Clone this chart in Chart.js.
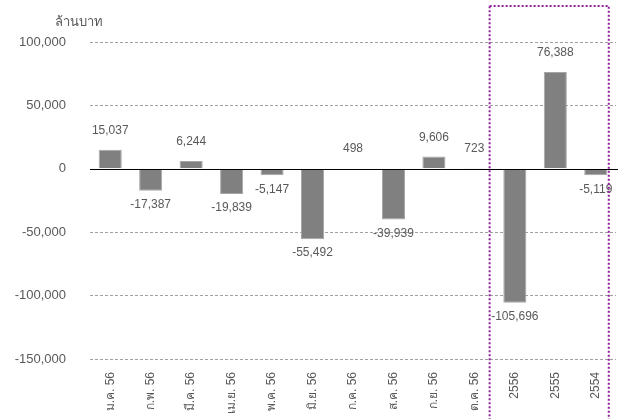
<!DOCTYPE html>
<html>
<head>
<meta charset="utf-8">
<script src="https://cdn.jsdelivr.net/npm/chart.js@4"></script>
<style>
    html, body { margin: 0; padding: 0; background: #fff; }
    #wrap { width: 624px; height: 419px; position: relative; }
</style>
</head>
<body>
<div id="wrap"><canvas id="balanceChart"></canvas></div>
<script>
// Dados
const categorias = ['ม.ค. 56', 'ก.พ. 56', 'มี.ค. 56', 'เม.ย. 56', 'พ.ค. 56', 'มิ.ย. 56',
    'ก.ค. 56', 'ส.ค. 56', 'ก.ย. 56', 'ต.ค. 56', '2556', '2555', '2554'];
const valores = [15037, -17387, 6244, -19839, -5147, -55492, 498, -39939, 9606, 723, -105696, 76388, -5119];
const unidade = 'ล้านบาท';
const yMin = -150000;
const yMax = 100000;
const yStep = 50000;

const FONT = "'Liberation Sans', 'Noto Sans', sans-serif";
const TEXT_COLOR = '#595959';

Chart.defaults.font.family = FONT;
Chart.defaults.color = TEXT_COLOR;

const fmt = v => Math.round(v).toLocaleString('en-US');

// Rótulos, linha zero e moldura pontilhada
const extrasPlugin = {
    id: 'extras',
    afterDatasetsDraw(chart) {
        const { ctx, chartArea, scales } = chart;
        const y0 = scales.y.getPixelForValue(0);

        ctx.save();
        ctx.strokeStyle = '#000';
        ctx.lineWidth = 1;
        ctx.beginPath();
        ctx.moveTo(chartArea.left, Math.round(y0) + 0.5);
        ctx.lineTo(chartArea.right + 2, Math.round(y0) + 0.5);
        ctx.stroke();

        ctx.font = '12px ' + FONT;
        ctx.fillStyle = TEXT_COLOR;
        ctx.textAlign = 'center';
        ctx.textBaseline = 'middle';
        chart.getDatasetMeta(0).data.forEach((bar, i) => {
            const v = valores[i];
            const ty = v >= 0 ? bar.y - 19 : bar.y + 14;
            ctx.fillText(fmt(v), bar.x, ty);
        });

        ctx.font = '13px ' + FONT;
        ctx.textAlign = 'left';
        ctx.fillText(unidade, 55, 22);

        // moldura dos anos
        const x9 = scales.x.getPixelForValue(9);
        const x10 = scales.x.getPixelForValue(10);
        const x12 = scales.x.getPixelForValue(12);
        ctx.strokeStyle = '#8E1F96';
        ctx.lineWidth = 2;
        ctx.setLineDash([2, 2]);
        ctx.strokeRect((x9 + x10) / 2 - 5, 6, x12 + 13 - ((x9 + x10) / 2 - 5), 420);
        ctx.restore();
    }
};

const ctx = document.getElementById('balanceChart').getContext('2d');
new Chart(ctx, {
    type: 'bar',
    data: {
        labels: categorias,
        datasets: [{
            data: valores,
            backgroundColor: '#808080',
            borderColor: '#a6a6a6',
            borderWidth: 1,
            barPercentage: 0.57,
            categoryPercentage: 1
        }]
    },
    options: {
        responsive: true,
        maintainAspectRatio: false,
        animation: false,
        layout: { padding: { top: 42, right: 8, bottom: 0, left: 0 } },
        plugins: {
            legend: { display: false },
            tooltip: { enabled: false }
        },
        scales: {
            x: {
                grid: { display: false, drawTicks: false },
                border: { display: false },
                ticks: {
                    minRotation: 90,
                    maxRotation: 90,
                    autoSkip: false,
                    padding: 13,
                    font: { size: 12 },
                    color: TEXT_COLOR
                },
                afterFit: s => { s.height = 60; }
            },
            y: {
                min: yMin,
                max: yMax,
                grid: {
                    color: c => c.tick && c.tick.value === 0 ? 'rgba(0,0,0,0)' : '#a0a0a0',
                    drawTicks: false,
                    lineWidth: 1
                },
                border: { display: false, dash: [3, 2] },
                ticks: {
                    stepSize: yStep,
                    padding: 24,
                    font: { size: 13 },
                    color: TEXT_COLOR,
                    callback: v => fmt(v)
                },
                afterFit: s => { s.width = 90; }
            }
        }
    },
    plugins: [extrasPlugin]
});
</script>
</body>
</html>
